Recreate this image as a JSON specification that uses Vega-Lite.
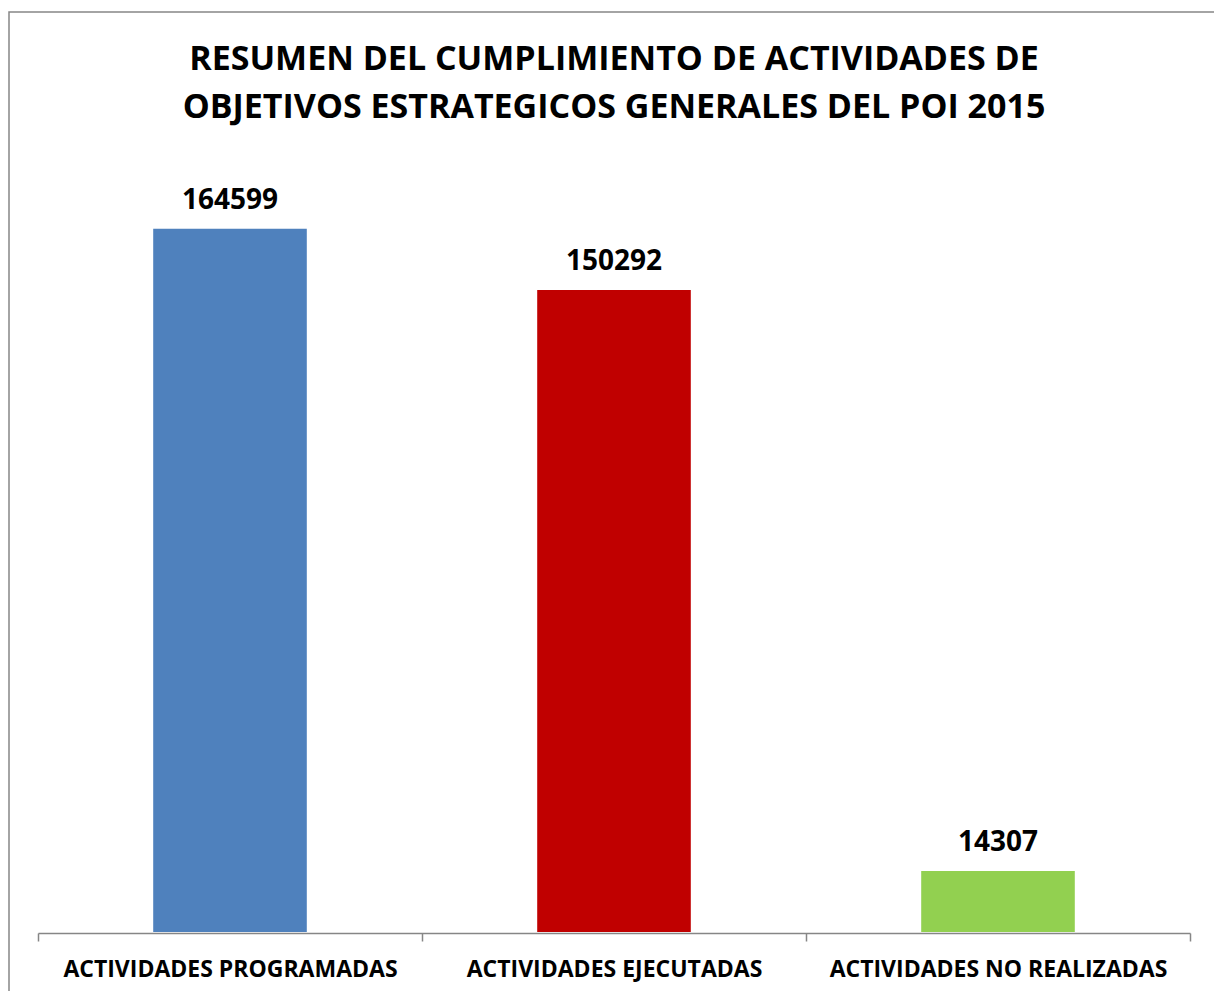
{
  "$schema": "https://vega.github.io/schema/vega-lite/v6.json",
  "autosize": "none",
  "width": 1207,
  "height": 981,
  "padding": {"left": 9, "top": 12, "right": -2, "bottom": -2},
  "background": "white",
  "config": {
    "view": {"stroke": "#868686", "strokeWidth": 1.5},
    "font": "Open Sans"
  },
  "title": {
    "text": ["RESUMEN DEL CUMPLIMIENTO DE ACTIVIDADES DE", "OBJETIVOS ESTRATEGICOS GENERALES DEL POI 2015"],
    "orient": "top",
    "anchor": "middle",
    "font": "Open Sans",
    "fontSize": 34,
    "fontWeight": "bold",
    "color": "black",
    "lineHeight": 48,
    "baseline": "alphabetic",
    "offset": -140,
    "dx": 1.5
  },
  "data": {
    "values": [
      {"categoria": "ACTIVIDADES PROGRAMADAS", "valor": 164599},
      {"categoria": "ACTIVIDADES EJECUTADAS", "valor": 150292},
      {"categoria": "ACTIVIDADES NO REALIZADAS", "valor": 14307}
    ]
  },
  "encoding": {
    "x": {
      "field": "categoria",
      "type": "nominal",
      "sort": null,
      "scale": {"range": [29, 1181], "paddingInner": 0, "paddingOuter": 0},
      "axis": {
        "title": null,
        "labelAngle": 0,
        "labelFont": "Open Sans",
        "labelFontSize": 23,
        "labelFontWeight": "bold",
        "labelColor": "black",
        "labelBaseline": "alphabetic",
        "labelPadding": 35,
        "labelLimit": 0,
        "tickSize": 8,
        "tickBand": "extent",
        "tickColor": "#868686",
        "domainColor": "#868686",
        "tickWidth": 1.5,
        "domainWidth": 1.5,
        "offset": -60,
        "grid": false
      }
    },
    "y": {
      "field": "valor",
      "type": "quantitative",
      "scale": {"domain": [0, 180000], "range": [920, 151], "nice": false, "zero": true},
      "axis": null
    }
  },
  "layer": [
    {
      "mark": {"type": "bar", "width": {"band": 0.4}},
      "encoding": {
        "color": {
          "field": "categoria",
          "type": "nominal",
          "sort": null,
          "scale": {"range": ["#4F81BD", "#C00000", "#92D050"]},
          "legend": null
        }
      }
    },
    {
      "mark": {"type": "text", "baseline": "alphabetic", "dy": -20, "font": "Open Sans", "fontSize": 28, "fontWeight": "bold", "color": "black"},
      "encoding": {
        "text": {"field": "valor", "type": "quantitative", "format": "d"}
      }
    }
  ]
}
